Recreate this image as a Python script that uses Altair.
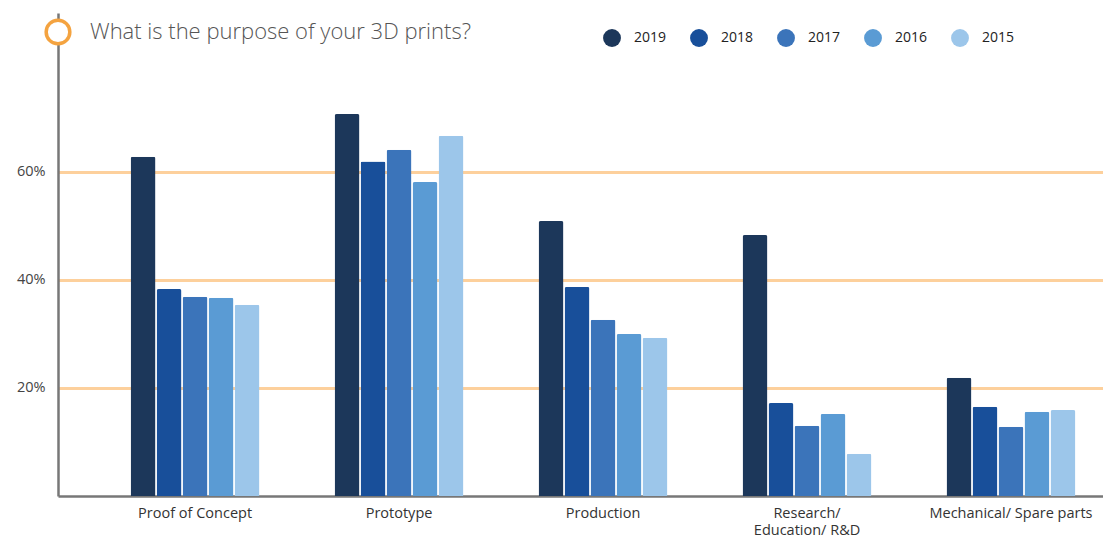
import altair as alt
import pandas as pd

categories = ["Proof of Concept", "Prototype", "Production", "Research/|Education/ R&D", "Mechanical/ Spare parts"]
years = ["2019", "2018", "2017", "2016", "2015"]
values = {
    "2019": [62.8, 70.7, 50.9, 48.3, 21.9],
    "2018": [38.3, 61.9, 38.7, 17.2, 16.5],
    "2017": [36.9, 64.1, 32.6, 13.0, 12.8],
    "2016": [36.7, 58.1, 30.0, 15.2, 15.6],
    "2015": [35.4, 66.7, 29.3, 7.8, 15.9],
}
colors = ["#1c375a", "#184f9a", "#3b74ba", "#5a9bd4", "#9cc6ea"]
y_ticks = [20, 40, 60]
title_text = "What is the purpose of your 3D prints?"

rows = []
for y in years:
    for c, v in zip(categories, values[y]):
        rows.append({"category": c, "year": y, "value": v})
df = pd.DataFrame(rows)

FONT = "Open Sans"

bars = alt.Chart(df).mark_bar(cornerRadiusTopLeft=2, cornerRadiusTopRight=2).encode(
    x=alt.X("category:N", sort=categories,
            scale=alt.Scale(paddingInner=0.368, paddingOuter=0.2455, align=0.725),
            axis=alt.Axis(title=None, labelExpr="split(datum.label, '|')", labelAngle=0,
                          labelFontSize=14.5, labelColor="#333", labelFont=FONT,
                          labelPadding=10, ticks=False, domainColor="#777", domainWidth=2.5,
                          labelLineHeight=17)),
    xOffset=alt.XOffset("year:N", sort=years, scale=alt.Scale(paddingInner=0.04, paddingOuter=0)),
    y=alt.Y("value:Q", scale=alt.Scale(domain=[0, 89.4], nice=False),
            axis=alt.Axis(title=None, values=y_ticks, labelExpr="datum.value + '%'",
                          labelFontSize=14.5, labelColor="#444", labelFont=FONT, labelPadding=13,
                          ticks=False, domainColor="#777", domainWidth=2.5,
                          grid=True, gridColor="#FDD09C", gridWidth=3)),
    color=alt.Color("year:N", sort=years, scale=alt.Scale(domain=years, range=colors),
                    legend=alt.Legend(title=None, orient="none", direction="horizontal",
                                      legendX=545, legendY=16, symbolType="circle",
                                      symbolSize=320, symbolStrokeWidth=0, labelFontSize=14,
                                      labelFont=FONT, labelColor="#222", labelOffset=13,
                                      columnPadding=23, symbolOpacity=1)),
)

one = pd.DataFrame({"t": [title_text]})
title = alt.Chart(one).mark_text(align="left", baseline="middle", fontSize=22, font=FONT,
                                 fontWeight=300, color="#555").encode(
    x=alt.value(32), y=alt.value(19), text="t:N")
circle = alt.Chart(one).mark_point(shape="circle", size=560, filled=False, stroke="#F4A340",
                                   strokeWidth=3.5, fill="white", fillOpacity=1, opacity=1).encode(
    x=alt.value(0), y=alt.value(19))

chart = alt.layer(bars, title, circle).properties(
    width=1045, height=483, autosize="none",
    padding={"left": 58, "top": 13, "right": 0, "bottom": 44},
    background="white",
).configure_view(stroke=None).configure_axis(gridOpacity=1)

chart.save("out.html", embed_options={"renderer": "svg", "actions": False})
